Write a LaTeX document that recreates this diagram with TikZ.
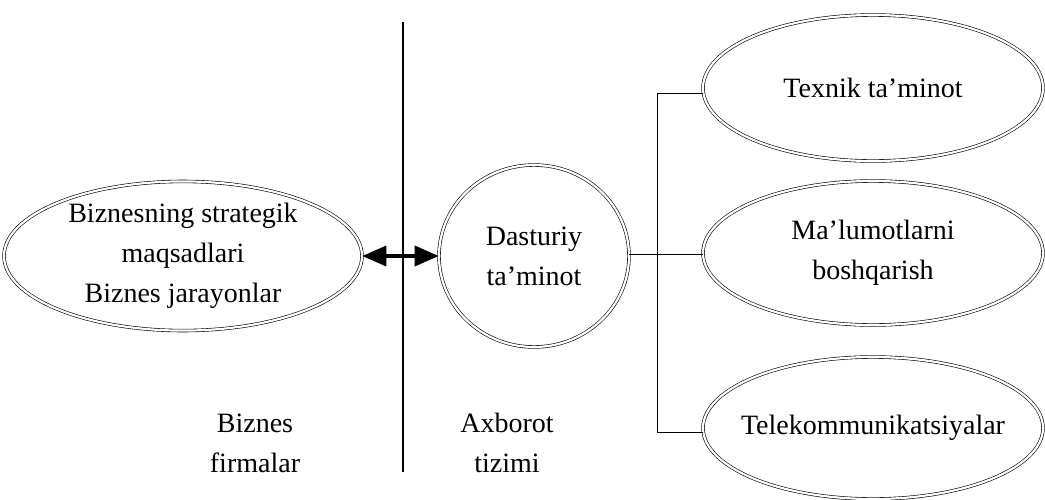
\documentclass[tikz,border=0pt]{standalone}
\usepackage{fontspec}
\setmainfont{Liberation Serif}
\usetikzlibrary{shapes.geometric,arrows.meta}
\begin{document}
\begin{tikzpicture}[x=1pt,y=-1pt,
  dbl/.style={draw, ellipse, double, double distance=2.2pt, line width=0.6pt, inner sep=0pt, align=center,
    font=\fontsize{28}{40}\selectfont},
  lbl/.style={align=center, font=\fontsize{28}{40}\selectfont},
  conn/.style={line width=1pt}]
\useasboundingbox (0,0) rectangle (1045,499);
\coordinate (vt) at (403,22);
\coordinate (vb) at (403,472);
\draw[line width=1.2pt] (vt) -- (vb);
\node[dbl, inner xsep=-50pt, minimum width=358pt, minimum height=94pt] (biz) at (183,256) {Biznesning strategik\\maqsadlari\\Biznes jarayonlar};
\node[dbl, minimum width=190pt, minimum height=182pt] (dt) at (534,256) {Dasturiy\\ta'minot};
\node[dbl, minimum width=340pt, minimum height=146pt] (tx) at (873,88) {Texnik ta'minot};
\node[dbl, minimum width=340pt, minimum height=144pt] (ml) at (873,253) {Ma'lumotlarni\\boshqarish};
\node[dbl, inner xsep=-60pt, minimum width=340pt, minimum height=142pt] (tk) at (873,428) {Telekommunikatsiyalar};
\draw[line width=3.6pt, {Triangle[length=24pt,width=20pt]}-{Triangle[length=24pt,width=20pt]}] (biz.east) -- (dt.west);
\coordinate (j) at (657,254);
\coordinate (jt) at (657,93);
\coordinate (jb) at (657,432);
\draw[conn] (dt.east |- j) -- (j);
\draw[conn] (jt) -- (jb);
\draw[conn] (jt) -- (tx.west |- jt);
\draw[conn] (j) -- (ml.west |- j);
\draw[conn] (jb) -- (tk.west |- jb);
\node[lbl] (bf) at (255,443) {Biznes\\firmalar};
\node[lbl] (at) at (507,443) {Axborot\\tizimi};
\end{tikzpicture}
\end{document}
